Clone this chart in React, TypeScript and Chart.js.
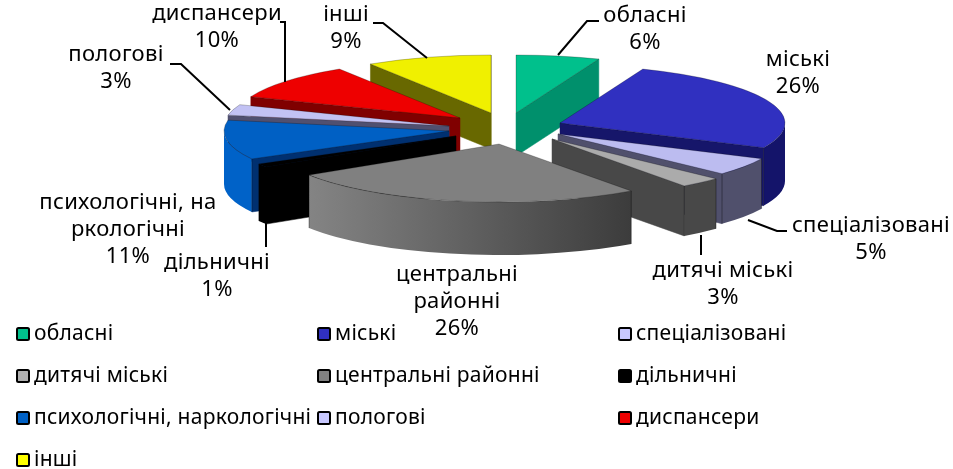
import React, { useEffect, useRef } from "react";
import { Chart, registerables } from "chart.js";

Chart.register(...registerables);

const categories = ["обласні", "міські", "спеціалізовані", "дитячі міські", "центральні районні", "дільничні", "психологічні, наркологічні", "пологові", "диспансери", "інші"];
const shares = [6, 26, 5, 3, 26, 1, 11, 3, 10, 9];
const topColors = ["#00c08c", "#3030c0", "#bcbcf0", "#ababab", "#808080", "#000000", "#0060c4", "#c2c2f4", "#ee0000", "#f0f000"];
const legendColors = ["#00c08c", "#3030c0", "#c8c8ff", "#b0b0b0", "#808080", "#000000", "#0060c4", "#c8c8ff", "#ee0000", "#ffff00"];
const wallColors = ["#00906c", "#16166a", "#50506c", "#484848", "#484848", "#000000", "#003070", "#505070", "#800000", "#686800"];
const rimColors: any[] = ["#00906c", "#14146a", "#50506c", "#484848", ["#848484", "#3c3c3c"], "#000000", "#0062c8", "#606080", "#900000", "#686800"];
const apexX = [516, 560, 558, 552, 499, 456, 449, 449, 460, 491];
const apexY = [113, 123, 134, 139, 144, 136, 131, 126, 118, 113];
const depths = [43, 58, 50, 50, 53, 57, 53, 45, 40, 36];
const paintOrder = [0, 9, 8, 7, 6, 5, 1, 2, 3, 4];
const labelLines = [["обласні"], ["міські"], ["спеціалізовані"], ["дитячі міські"], ["центральні", "районні"], ["дільничні"], ["психологічні, на", "ркологічні"], ["пологові"], ["диспансери"], ["інші"]];
const labelX = [645, 798, 871, 723, 457, 217, 128, 116, 217, 346];
const labelY = [16, 60, 226, 271, 275, 263, 203, 55, 14, 15];
const leaders: number[][][] = [
  [[558, 55], [587, 21], [599, 21]],
  [],
  [[748, 220], [777, 231], [787, 231]],
  [[701, 235], [701, 255]],
  [],
  [[266, 221], [266, 247]],
  [],
  [[230, 110], [181, 64], [170, 64]],
  [[285, 82], [285, 22], [280, 22]],
  [[427, 58], [383, 23], [373, 23]],
];
const legendX = [16, 317, 618];
const legendY = [334, 376, 418, 460];
const LEGEND_FONT = '21px "Noto Sans"';
const LABEL_FONT = '22px "Noto Sans"';
const RX = 225;
const RY = 58;

const pie3d = {
  id: "pie3d",
  beforeDatasetDraw(chart: any) {
    const ctx = chart.ctx;
    const arcs = chart.getDatasetMeta(0).data;
    for (const i of paintOrder) {
      const arc = arcs[i];
      const sx = RX / arc.outerRadius;
      const sy = RY / arc.outerRadius;
      const ax = apexX[i];
      const ay = apexY[i];
      const d = depths[i];
      const s = arc.startAngle;
      const e = arc.endAngle;
      const rim = (a: number) => [ax + RX * Math.cos(a), ay + RY * Math.sin(a)];
      const wall = (a: number) => {
        const [x, y] = rim(a);
        ctx.beginPath();
        ctx.moveTo(ax, ay);
        ctx.lineTo(x, y);
        ctx.lineTo(x, y + d);
        ctx.lineTo(ax, ay + d);
        ctx.closePath();
        ctx.fillStyle = wallColors[i];
        ctx.fill();
        ctx.strokeStyle = wallColors[i];
        ctx.lineWidth = 0.5;
        ctx.stroke();
      };
      if (Math.cos(s) < 0) wall(s);
      if (Math.cos(e) > 0) wall(e);
      const a0 = Math.max(s, 0);
      const a1 = Math.min(e, Math.PI);
      if (a1 > a0) {
        const [x0] = rim(a0);
        const [x1] = rim(a1);
        let fill = rimColors[i];
        if (Array.isArray(fill)) {
          const g = ctx.createLinearGradient(Math.min(x0, x1), 0, Math.max(x0, x1), 0);
          g.addColorStop(0, fill[0]);
          g.addColorStop(1, fill[1]);
          fill = g;
        }
        ctx.beginPath();
        ctx.ellipse(ax, ay, RX, RY, 0, a0, a1);
        ctx.ellipse(ax, ay + d, RX, RY, 0, a1, a0, true);
        ctx.closePath();
        ctx.fillStyle = fill;
        ctx.fill();
        ctx.strokeStyle = "rgba(0,0,0,0.35)";
        ctx.lineWidth = 1;
        for (const a of [a0, a1]) {
          const [x, y] = rim(a);
          if (a === 0 || a === Math.PI) continue;
          ctx.beginPath();
          ctx.moveTo(x, y);
          ctx.lineTo(x, y + d);
          ctx.stroke();
        }
      }
      ctx.save();
      ctx.translate(ax, ay);
      ctx.scale(sx, sy);
      ctx.translate(-arc.x, -arc.y);
      arc.draw(ctx);
      ctx.restore();
      ctx.beginPath();
      ctx.moveTo(ax, ay);
      ctx.lineTo(...(rim(s) as [number, number]));
      ctx.ellipse(ax, ay, RX, RY, 0, s, e);
      ctx.closePath();
      ctx.strokeStyle = "rgba(0,0,0,0.3)";
      ctx.lineWidth = 0.8;
      ctx.stroke();
    }
    return false;
  },
  afterDraw(chart: any) {
    const ctx = chart.ctx;
    ctx.save();
    ctx.strokeStyle = "#000";
    ctx.lineWidth = 2;
    ctx.lineJoin = "miter";
    leaders.forEach((pts) => {
      if (!pts.length) return;
      ctx.beginPath();
      pts.forEach(([x, y], k) => (k ? ctx.lineTo(x, y) : ctx.moveTo(x, y)));
      ctx.stroke();
    });
    ctx.font = LABEL_FONT;
    ctx.letterSpacing = "0.3px";
    ctx.fillStyle = "#000";
    ctx.textBaseline = "middle";
    ctx.textAlign = "center";
    labelLines.forEach((lines, i) => {
      [...lines, `${shares[i]}%`].forEach((t, k) => {
        ctx.fillText(t, labelX[i], labelY[i] + k * 27);
      });
    });
    ctx.font = LEGEND_FONT;
    ctx.letterSpacing = "0.25px";
    ctx.textAlign = "left";
    categories.forEach((name, i) => {
      const x = legendX[i % 3];
      const y = legendY[Math.floor(i / 3)];
      ctx.fillStyle = legendColors[i];
      ctx.beginPath();
      ctx.roundRect(x + 1, y - 6, 12, 12, 1.5);
      ctx.fill();
      ctx.strokeStyle = "#000";
      ctx.lineWidth = 2;
      ctx.stroke();
      ctx.fillStyle = "#000";
      ctx.fillText(name, x + 18, y);
    });
    ctx.restore();
  },
};

export default function App() {
  const ref = useRef<HTMLCanvasElement>(null);
  useEffect(() => {
    const chart = new Chart(ref.current!, {
      type: "pie",
      data: {
        labels: categories,
        datasets: [{ data: shares, backgroundColor: topColors, borderWidth: 0 }],
      },
      options: {
        responsive: false,
        animation: false,
        layout: { padding: 0 },
        plugins: { legend: { display: false }, tooltip: { enabled: false } },
      },
      plugins: [pie3d],
    } as any);
    return () => chart.destroy();
  }, []);
  return (
    <div style={{ position: "absolute", left: 0, top: 0, width: 953, height: 469, background: "#fff" }}>
      <canvas ref={ref} width={953} height={469} style={{ display: "block" }} />
    </div>
  );
}
